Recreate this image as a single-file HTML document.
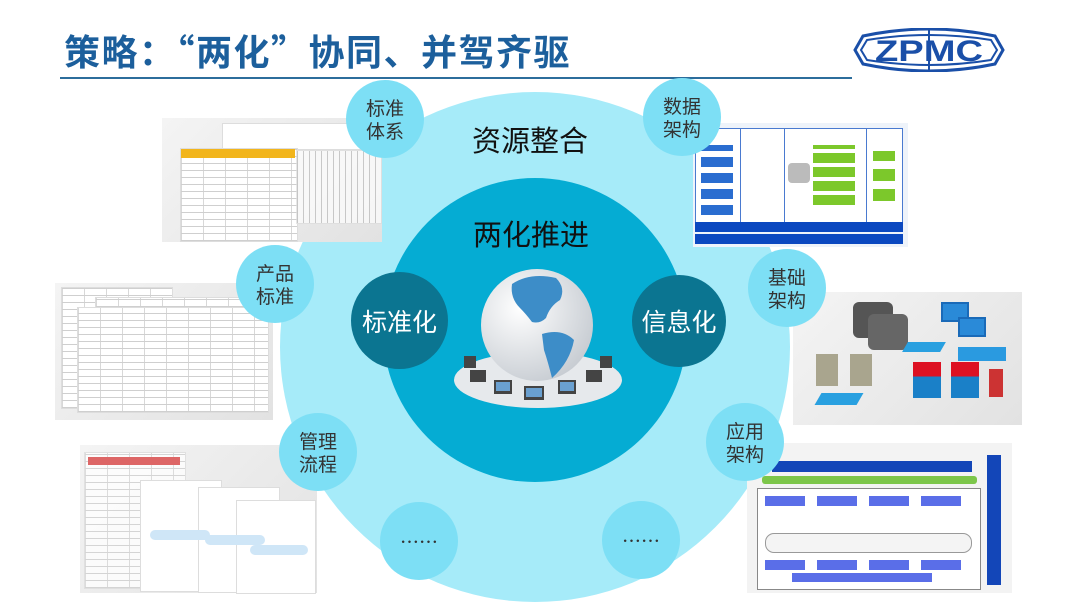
<!DOCTYPE html>
<html><head><meta charset="utf-8">
<style>
html,body{margin:0;padding:0;background:#fff;}
body{width:1080px;height:607px;position:relative;overflow:hidden;font-family:"Liberation Sans","Noto Sans CJK SC",sans-serif;}
.title{position:absolute;left:64px;top:24px;font-size:36px;font-weight:bold;color:#1c5f9c;letter-spacing:1.5px;font-family:"Noto Sans CJK SC","WenQuanYi Zen Hei",sans-serif;white-space:nowrap;}
.rule{position:absolute;left:60px;top:77px;width:792px;height:2px;background:#2c6d9c;}
.panel{position:absolute;background:linear-gradient(135deg,#f4f4f4,#e2e2e2);}
.doc{position:absolute;background:#fff;border:1px solid #ddd;
 background-image:repeating-linear-gradient(0deg,#cfcfcf 0 1px,transparent 1px 7px),repeating-linear-gradient(90deg,#d8d8d8 0 1px,transparent 1px 22px);}
.plain{position:absolute;background:#fff;border:1px solid #ddd;}
.sat{position:absolute;width:78px;height:78px;border-radius:50%;background:#7ddff5;color:#333;font-size:19px;line-height:23px;text-align:center;display:flex;align-items:center;justify-content:center;font-family:"Noto Sans CJK SC",sans-serif;}
.dark{position:absolute;border-radius:50%;background:#0b7591;color:#fff;font-size:25px;display:flex;align-items:center;justify-content:center;font-family:"Noto Sans CJK SC",sans-serif;}
.lbl{position:absolute;font-size:29px;color:#111;font-family:"Noto Sans CJK SC",sans-serif;white-space:nowrap;}
</style></head><body>
<div class="title">策略：“两化”协同、并驾齐驱</div>
<div class="rule"></div>
<svg style="position:absolute;left:853px;top:28px" width="152" height="44" viewBox="0 0 152 44">
 <path d="M10 8 Q76 -6 142 8 L150 22 L142 36 Q76 50 10 36 L2 22 Z" fill="none" stroke="#1a4fa8" stroke-width="3"/>
 <path d="M14 12 Q76 2 138 12 L144 22 L138 32 Q76 42 14 32 L8 22 Z" fill="none" stroke="#1a4fa8" stroke-width="2"/>
 <line x1="76" y1="0" x2="76" y2="44" stroke="#1a4fa8" stroke-width="2"/>
 <text x="76" y="33" text-anchor="middle" font-family="Liberation Sans" font-weight="bold" font-size="30" fill="#1a4fa8" textLength="108" lengthAdjust="spacingAndGlyphs">ZPMC</text>
</svg>

<div style="position:absolute;left:280px;top:92px;width:510px;height:510px;border-radius:50%;background:#a6ebf9;"></div>
<div style="position:absolute;left:383px;top:178px;width:304px;height:304px;border-radius:50%;background:#05acd3;"></div>

<div class="panel" style="left:162px;top:118px;width:220px;height:124px;">
 <div class="plain" style="left:60px;top:5px;width:158px;height:25px;"></div>
 <div class="doc" style="left:18px;top:30px;width:116px;height:92px;"></div>
 <div style="position:absolute;left:19px;top:31px;width:114px;height:9px;background:#f2b51c"></div>
 <div class="doc" style="left:134px;top:32px;width:84px;height:72px;background-image:repeating-linear-gradient(90deg,#bbb 0 1px,transparent 1px 6px);opacity:.7"></div>
</div>
<div class="panel" style="left:693px;top:123px;width:215px;height:124px;background:#eef3fa;">
 <div style="position:absolute;left:2px;top:5px;width:206px;height:93px;border:1px solid #4a7ad0;background:#fff;
  background-image:linear-gradient(90deg,transparent 0 44px,#4a7ad0 44px 45px,transparent 45px 88px,#4a7ad0 88px 89px,transparent 89px 170px,#4a7ad0 170px 171px,transparent 171px);"></div>
 <div style="position:absolute;left:8px;top:22px;width:32px;height:70px;background:repeating-linear-gradient(0deg,#2a6dd0 0 10px,transparent 10px 16px)"></div>
 <div style="position:absolute;left:120px;top:22px;width:42px;height:60px;background:repeating-linear-gradient(0deg,#7cc82b 0 10px,transparent 10px 14px)"></div>
 <div style="position:absolute;left:180px;top:28px;width:22px;height:50px;background:repeating-linear-gradient(0deg,#7cc82b 0 12px,transparent 12px 20px)"></div>
 <div style="position:absolute;left:95px;top:40px;width:22px;height:20px;border-radius:4px;background:#bbb"></div>
 <div style="position:absolute;left:2px;top:99px;width:208px;height:10px;background:#0b48c0"></div>
 <div style="position:absolute;left:2px;top:111px;width:208px;height:10px;background:#0b48c0"></div>
</div>
<div class="panel" style="left:55px;top:283px;width:218px;height:137px;">
 <div class="doc" style="left:6px;top:4px;width:110px;height:120px;"></div>
 <div class="doc" style="left:40px;top:14px;width:150px;height:30px;"></div>
 <div class="doc" style="left:22px;top:24px;width:190px;height:104px;"></div>
</div>
<div class="panel" style="left:793px;top:292px;width:229px;height:133px;">
 <div style="position:absolute;left:60px;top:10px;width:40px;height:36px;background:#555;border-radius:6px"></div>
 <div style="position:absolute;left:75px;top:22px;width:40px;height:36px;background:#666;border-radius:6px"></div>
 <div style="position:absolute;left:148px;top:10px;width:24px;height:16px;background:#2a8ad8;border:2px solid #1a6ab8"></div>
 <div style="position:absolute;left:165px;top:25px;width:24px;height:16px;background:#2a8ad8;border:2px solid #1a6ab8"></div>
 <div style="position:absolute;left:112px;top:50px;width:38px;height:10px;background:#29a0e0;transform:skewX(-30deg)"></div>
 <div style="position:absolute;left:165px;top:55px;width:48px;height:14px;background:#2a9ae0"></div>
 <div style="position:absolute;left:23px;top:62px;width:22px;height:32px;background:#a9a58e"></div>
 <div style="position:absolute;left:57px;top:62px;width:22px;height:32px;background:#a9a58e"></div>
 <div style="position:absolute;left:25px;top:101px;width:42px;height:12px;background:#29a0e0;transform:skewX(-30deg)"></div>
 <div style="position:absolute;left:120px;top:70px;width:28px;height:36px;background:linear-gradient(#d12 0 40%,#1a80c8 40%)"></div>
 <div style="position:absolute;left:158px;top:70px;width:28px;height:36px;background:linear-gradient(#d12 0 40%,#1a80c8 40%)"></div>
 <div style="position:absolute;left:196px;top:77px;width:14px;height:28px;background:#c33"></div>
</div>
<div class="panel" style="left:747px;top:443px;width:265px;height:150px;background:#f3f3f3;">
 <div style="position:absolute;left:25px;top:18px;width:200px;height:11px;background:#1346b8"></div>
 <div style="position:absolute;left:15px;top:33px;width:215px;height:8px;background:#7cc64a;border-radius:3px"></div>
 <div style="position:absolute;left:10px;top:45px;width:222px;height:100px;border:1px solid #888;background:#fff"></div>
 <div style="position:absolute;left:18px;top:53px;width:206px;height:10px;background:repeating-linear-gradient(90deg,#5a6ee8 0 40px,transparent 40px 52px)"></div>
 <div style="position:absolute;left:18px;top:90px;width:205px;height:18px;border:1px solid #999;border-radius:9px;background:#f4f4f4"></div>
 <div style="position:absolute;left:18px;top:117px;width:206px;height:10px;background:repeating-linear-gradient(90deg,#5a6ee8 0 40px,transparent 40px 52px)"></div>
 <div style="position:absolute;left:45px;top:130px;width:140px;height:9px;background:#5a6ee8"></div>
 <div style="position:absolute;left:240px;top:12px;width:14px;height:130px;background:#1346b8"></div>
</div>
<div class="panel" style="left:80px;top:445px;width:237px;height:148px;">
 <div class="doc" style="left:4px;top:7px;width:100px;height:135px;opacity:.8"></div>
 <div style="position:absolute;left:8px;top:12px;width:92px;height:8px;background:#d66"></div>
 <div class="plain" style="left:60px;top:35px;width:80px;height:110px;"></div>
 <div class="plain" style="left:118px;top:42px;width:80px;height:104px;"></div>
 <div class="plain" style="left:156px;top:55px;width:78px;height:92px;"></div>
 <div style="position:absolute;left:70px;top:85px;width:60px;height:10px;background:#cfe6f7;border-radius:5px"></div>
 <div style="position:absolute;left:125px;top:90px;width:60px;height:10px;background:#cfe6f7;border-radius:5px"></div>
 <div style="position:absolute;left:170px;top:100px;width:58px;height:10px;background:#cfe6f7;border-radius:5px"></div>
</div>

<svg style="position:absolute;left:450px;top:262px" width="180" height="150" viewBox="0 0 180 150">
 <defs><radialGradient id="g" cx="35%" cy="35%" r="70%"><stop offset="0" stop-color="#fff"/><stop offset="1" stop-color="#c8cdd3"/></radialGradient></defs>
 <ellipse cx="88" cy="118" rx="84" ry="28" fill="#e6e9ec"/>
 <g fill="#444">
  <rect x="20" y="108" width="16" height="12"/><rect x="44" y="118" width="18" height="14"/><rect x="74" y="124" width="20" height="14"/>
  <rect x="108" y="118" width="18" height="14"/><rect x="136" y="108" width="16" height="12"/><rect x="150" y="94" width="12" height="12"/><rect x="14" y="94" width="12" height="12"/>
 </g>
 <g fill="#6aa0d0"><rect x="46" y="120" width="14" height="9"/><rect x="76" y="126" width="16" height="9"/><rect x="110" y="120" width="14" height="9"/></g>
 <circle cx="87" cy="63" r="56" fill="url(#g)"/>
 <path d="M62 22 Q80 10 106 16 Q116 26 110 38 Q100 44 96 56 Q90 62 82 60 Q76 52 70 46 Q60 36 62 22 Z" fill="#3d8dc8"/>
 <path d="M92 72 Q112 66 124 78 Q120 100 102 116 Q98 100 94 88 Z" fill="#3d8dc8"/>
</svg>

<div class="lbl" style="left:472px;top:118px;">资源整合</div>
<div class="lbl" style="left:473px;top:212px;">两化推进</div>
<div class="dark" style="left:351px;top:272px;width:97px;height:97px;">标准化</div>
<div class="dark" style="left:632px;top:275px;width:94px;height:92px;">信息化</div>

<div class="sat" style="left:346px;top:80px;">标准<br>体系</div>
<div class="sat" style="left:643px;top:78px;">数据<br>架构</div>
<div class="sat" style="left:236px;top:245px;">产品<br>标准</div>
<div class="sat" style="left:748px;top:249px;">基础<br>架构</div>
<div class="sat" style="left:279px;top:413px;">管理<br>流程</div>
<div class="sat" style="left:706px;top:403px;">应用<br>架构</div>
<div class="sat" style="left:380px;top:502px;">……</div>
<div class="sat" style="left:602px;top:501px;">……</div>
</body></html>
